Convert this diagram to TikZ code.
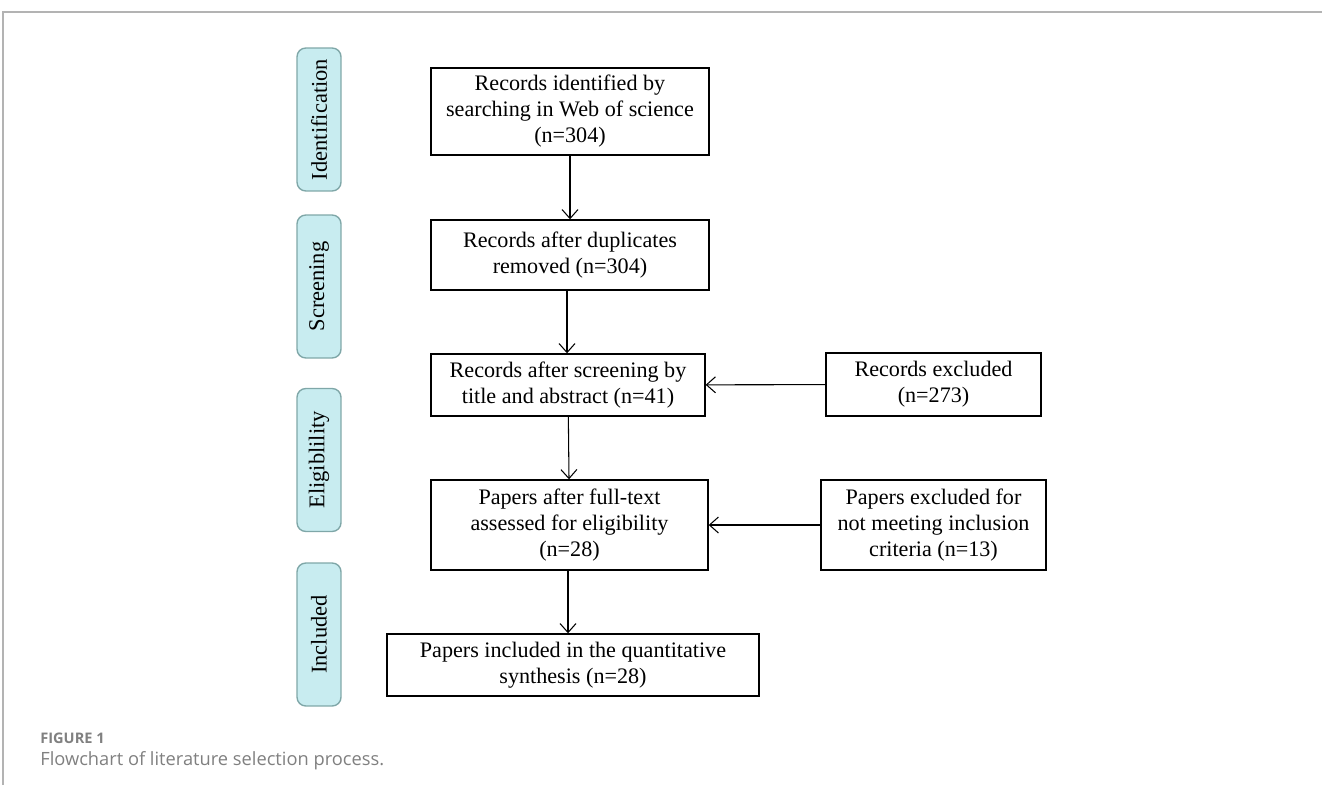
\documentclass[tikz,border=0pt]{standalone}
\usepackage{fontspec}
\setmainfont{Liberation Serif}
\newfontfamily\capfont{Open Sans}
\usetikzlibrary{arrows.meta}
\definecolor{stagefill}{HTML}{C8ECF0}
\definecolor{stagedraw}{HTML}{7FA7A8}
\definecolor{capgray}{HTML}{808080}

\begin{document}
\begin{tikzpicture}[x=0.02cm, y=-0.02cm, box/.style={draw, thick, align=center, inner sep=0pt, font=\fontsize{12.6}{14.8}\selectfont}, stage/.style={draw=stagedraw, thick, fill=stagefill, rounded corners=5pt, minimum width=0.88cm, minimum height=2.86cm, font=\fontsize{12.8}{14}\selectfont}, arrow/.style={-{Straight Barb[length=1.8mm, width=3.2mm]}, semithick}]
\useasboundingbox (0,0) rectangle (1322,791);
\draw[capgray!60, thick] (3,785) -- (3,12) -- (1322,12);
% stages
\node[stage] (ident) at (319,119.5) {\rotatebox{90}{Identification}};
\node[stage] (screen) at (319,286.5) {\rotatebox{90}{Screening}};
\node[stage] (elig) at (319,460) {\rotatebox{90}{Eligiblility}};
\node[stage] (incl) at (319,634.5) {\rotatebox{90}{Included}};
% boxes
\node[box, minimum width=5.56cm, minimum height=1.74cm] (found) at (570,111.5) {Records identified by\\searching in Web of science\\(n=304)};
\node[box, minimum width=5.56cm, minimum height=1.4cm] (dedup) at (570,255) {Records after duplicates\\removed (n=304)};
\node[box, minimum width=5.48cm, minimum height=1.24cm] (titled) at (568,385) {Records after screening by\\title and abstract (n=41)};
\node[box, minimum width=4.3cm, minimum height=1.26cm] (excl) at (933.5,384.5) {Records excluded\\(n=273)};
\node[box, minimum width=5.54cm, minimum height=1.8cm] (fulltext) at (569.5,525) {Papers after full-text\\assessed for eligibility\\(n=28)};
\node[box, minimum width=4.5cm, minimum height=1.8cm] (notmet) at (933.5,525) {Papers excluded for\\not meeting inclusion\\criteria (n=13)};
\node[box, minimum width=7.44cm, minimum height=1.24cm] (final) at (573,665) {Papers included in the quantitative\\synthesis (n=28)};
% arrows
\draw[arrow] (found) -- (dedup);
\draw[arrow] (dedup.south -| 567,0) -- (titled.north -| 567,0);
\draw[arrow] (titled) -- (fulltext);
\draw[arrow] (fulltext.south -| 568,0) -- (final.north -| 568,0);
\draw[arrow] (excl) -- (titled);
\draw[arrow] (notmet) -- (fulltext);
% caption
\node[anchor=west, inner sep=0pt, text=capgray, font=\capfont\bfseries\fontsize{8.3}{9}\selectfont] (fig) at (40,738) {FIGURE 1};
\node[anchor=west, inner sep=0pt, text=capgray, font=\capfont\fontsize{10.4}{12}\selectfont] (cap) at (40,761) {Flowchart of literature selection process.};
\end{tikzpicture}
\end{document}
